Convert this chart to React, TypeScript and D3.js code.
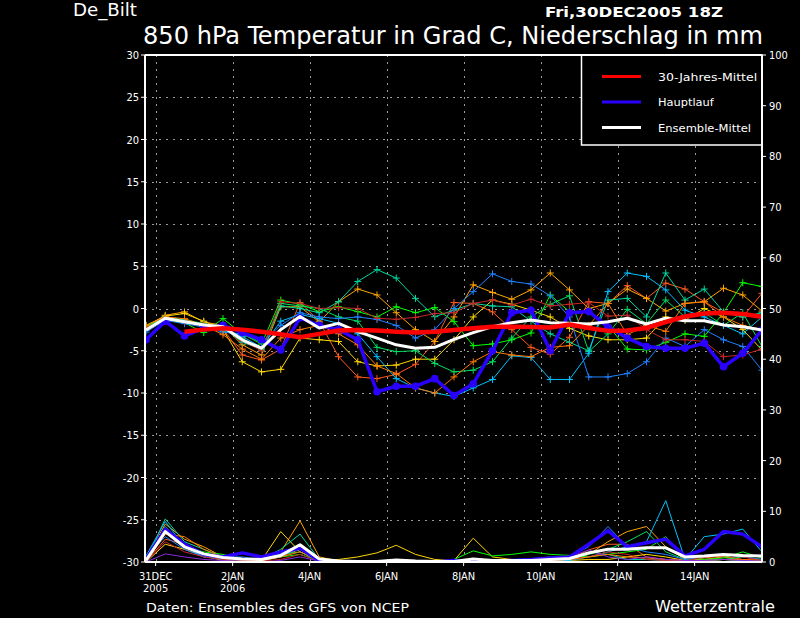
import React, { useEffect } from "react";
import * as d3 from "d3";

// ---------- data ----------
const stepHours = [0, 12, 24, 36, 48, 60, 72, 84, 96, 108, 120, 132, 144, 156, 168, 180, 192, 204, 216, 228, 240, 252, 264, 276, 288, 300, 312, 324, 336, 348, 360, 372, 384];
const tempTicks = [-30, -25, -20, -15, -10, -5, 0, 5, 10, 15, 20, 25, 30];
const precipTicks = [0, 10, 20, 30, 40, 50, 60, 70, 80, 90, 100];
const dayTickHours = [6, 54, 102, 150, 198, 246, 294, 342];
const dayTickLabels = ["31DEC", "2JAN", "4JAN", "6JAN", "8JAN", "10JAN", "12JAN", "14JAN"];
const yearTickLabels = ["2005", "2006", "", "", "", "", "", ""];

const memberColors = ["#ff5a1e", "#ffa500", "#ffd700", "#00ff00", "#00e060", "#00d8a0", "#00c0ff", "#1e82ff", "#c82828", "#ff7800"];
const precipOnlyColor = "#8a2be2";

const tempA = [-2.5, -1.2, -1.6, -2.0, -2.4, -5.5, -6.1, -4.8, 0.7, -1.5, -5.7, -8.1, -8.3, -7.8, -6.6, -3.9, 0.7, 0.6, -0.4, -2.5, -4.6, -5.4, -3.4, 0.8, 0.6, 2.7, 1.2, 3.0, 2.3, 0.8, -0.5, -1.0, 1.8];
const tempB = [-2.2, -0.8, -0.4, -1.6, -2.0, -4.3, -5.5, 0.2, 0.2, -1.6, 0.8, 2.3, 1.6, -0.5, -2.5, -3.9, -1.0, 2.8, 1.9, 1.1, 2.2, 4.2, 2.2, 0.0, 0.6, 2.3, 1.2, -0.3, 0.6, 0.8, 2.4, 1.6, -0.3];
const tempC = [-2.0, -0.9, -0.6, -1.5, -2.5, -6.3, -7.5, -7.2, -3.5, -3.7, -3.9, -6.3, -6.8, -6.7, -6.0, -6.0, -3.7, -1.0, 1.0, 0.5, -0.2, -1.0, -2.35, -3.25, -3.7, -3.7, -3.5, -1.0, -1.4, 0.0, -1.0, -2.5, -4.9];
const tempD = [-2.0, -1.3, -1.7, -2.85, -1.2, -3.0, -4.2, 1.0, 0.5, -0.37, 0.2, -0.37, -1.0, 0.2, -0.5, 0.1, -1.56, -4.4, -4.2, -3.7, -2.9, 1.6, -0.4, -0.4, -2.0, -4.8, -4.9, -4.0, -3.0, -3.3, -0.5, 3.05, 2.6];
const tempE = [-2.3, -1.0, -1.3, -1.8, -2.6, -3.5, -5.0, 0.6, 0.3, 0.0, -1.0, -1.5, -4.6, -5.1, -5.0, -6.5, -7.5, -7.3, -6.3, -3.5, -1.0, 0.5, 1.5, -5.1, -3.0, -0.1, -1.8, 1.0, -1.0, -0.5, -2.0, -0.5, -4.5];
const tempF = [-2.4, -1.1, -1.4, -1.9, -2.2, -4.0, -4.8, 0.3, 0.0, -0.5, 0.8, 3.2, 4.6, 3.6, 1.2, -0.97, -0.2, 0.6, 0.3, 0.2, -1.5, -3.0, -4.0, -5.0, 1.0, 1.2, -1.0, 4.2, 1.0, 2.3, -0.4, -1.0, -0.5];
const tempG = [-2.6, -1.3, -1.5, -2.0, -2.5, -3.3, -4.6, -1.5, -0.7, -1.2, -1.76, -3.0, -5.7, -8.3, -9.4, -10.0, -10.4, -9.4, -8.4, -5.6, -5.8, -8.4, -8.4, -5.3, 2.0, 4.2, 3.8, 2.2, -0.2, -1.0, -2.0, -3.0, -1.0];
const tempH = [-2.8, -1.4, -1.8, -2.2, -2.8, -3.0, -4.0, -2.0, -0.5, -1.0, -1.2, -1.0, -1.3, -2.0, -3.5, -2.5, 0.0, 2.0, 4.1, 3.2, 2.9, 1.5, -1.0, -8.1, -8.1, -7.7, -6.3, -3.5, -4.5, -2.5, -3.7, -4.5, -7.3];
const tempI = [-2.3, -1.2, -1.5, -1.9, -2.0, -3.8, -5.0, 0.8, 0.6, 0.0, 0.1, 0.0, -1.16, -1.28, -1.05, -0.6, -0.5, 0.6, 1.0, 0.4, 1.1, 0.3, 0.5, 0.7, -0.9, -0.8, -2.5, -3.7, -3.7, -3.9, -5.7, -5.5, -4.8];
const tempJ = [-2.0, -1.0, -1.2, -2.0, -3.1, -4.8, -6.0, -3.5, -2.5, -2.0, -3.0, -4.3, -6.8, -7.7, -9.4, -10.0, -8.1, -6.3, -5.1, -5.5, -5.7, -4.6, -4.4, -2.0, 0.6, -3.1, -2.0, -2.7, 0.6, 0.8, -1.0, -2.0, -2.5];

const precipA = [0, 4.5, 3.5, 1.5, 0.5, 0.3, 0.2, 1.0, 2.5, 0.3, 0, 0, 0, 0, 0, 0, 0, 0.2, 0.2, 0.3, 0.3, 0.5, 0.5, 2.4, 3.5, 3.5, 1.0, 0.5, 0.3, 0.8, 1.2, 0.5, 0.3];
const precipB = [0.5, 7.5, 4.5, 3.0, 1.0, 0.3, 0.2, 2.0, 8.1, 1.0, 0.2, 0, 0, 0, 0, 0, 0, 0.1, 0.1, 0.2, 0.3, 0.3, 0.5, 1.5, 4.0, 6.0, 7.0, 3.0, 0.5, 0.5, 1.0, 0.3, 0.2];
const precipC = [0, 3.5, 2.5, 1.2, 0.3, 0.1, 0.3, 6.0, 2.0, 0.2, 0.5, 1.0, 1.8, 3.3, 1.5, 0.5, 0.3, 4.7, 1.0, 0.5, 0.3, 0.2, 0.3, 0.5, 0.5, 1.0, 1.5, 1.0, 0.3, 0.3, 0.5, 0.3, 0.2];
const precipD = [1.0, 6.0, 3.0, 2.0, 1.5, 0.5, 0.3, 1.0, 1.5, 0.2, 0, 0, 0, 0, 0, 0, 0.5, 2.2, 1.2, 1.5, 2.0, 1.5, 1.3, 1.0, 1.5, 2.0, 2.5, 5.0, 1.0, 0.5, 0.8, 2.0, 0.8];
const precipE = [0, 7.0, 3.0, 1.5, 1.3, 0.5, 0.3, 1.5, 2.0, 0.2, 0, 0, 0, 0, 0, 0, 0, 0.3, 0.3, 0.5, 0.5, 0.5, 0.5, 1.5, 2.5, 4.0, 6.0, 2.0, 0.5, 0.3, 0.5, 1.0, 0.5];
const precipF = [0.3, 8.5, 4.0, 2.5, 1.0, 0.3, 0.5, 2.5, 5.5, 0.5, 0, 0, 0, 0, 0, 0, 0, 0.3, 0.3, 0.3, 0.5, 1.0, 0.5, 2.0, 1.5, 0.5, 0.5, 0.3, 0.2, 0.3, 0.5, 0.3, 0.2];
const precipG = [1.2, 8.0, 3.0, 1.0, 0.5, 0.3, 0.5, 1.5, 2.5, 0.3, 0, 0, 0, 0, 0, 0, 0, 0.2, 0.2, 0.3, 0.3, 0.3, 0.3, 1.0, 2.0, 3.0, 4.0, 12.1, 0.5, 5.0, 5.5, 6.5, 2.0];
const precipH = [0.8, 5.0, 2.5, 1.0, 1.0, 1.0, 0.5, 1.0, 3.0, 0.3, 0, 0, 0, 0, 0, 0, 0, 0.2, 0.2, 0.3, 0.5, 0.8, 1.0, 3.0, 7.0, 3.0, 2.0, 1.5, 0.5, 1.0, 1.5, 1.0, 0.5];
const precipI = [0, 4.0, 2.0, 1.0, 0.5, 0.3, 0.2, 0.5, 1.5, 0.2, 0, 0, 0, 0, 0, 0, 0, 0, 0.1, 0.2, 0.2, 0.3, 0.5, 1.0, 2.0, 1.5, 0.5, 0.3, 0.2, 1.0, 1.5, 1.0, 0.3];
const precipJ = [0, 5.5, 5.0, 2.5, 1.0, 0.5, 0.3, 1.0, 2.0, 0.5, 0.2, 0, 0, 0, 0, 0, 0, 0.2, 0.2, 0.3, 0.3, 0.3, 0.5, 1.0, 1.5, 1.0, 0.8, 0.5, 0.3, 0.3, 0.5, 0.5, 0.3];
const precipK = [0, 1.6, 1.0, 0.5, 0.3, 0.1, 0, 0.3, 1.0, 0.2, 0, 0, 0, 0, 0, 0, 0, 0.2, 0.2, 0.3, 0.5, 0.5, 1.0, 2.4, 1.0, 0.5, 1.0, 0.5, 0.3, 0.3, 0.5, 0.3, 0.2];

const mainTemp = [-3.7, -1.5, -3.25, -2.35, -2.0, -2.85, -3.7, -4.9, -1.1, -2.0, -2.5, -3.7, -9.85, -9.2, -9.2, -8.3, -10.3, -8.9, -5.0, -0.5, -0.2, -5.0, -0.5, -0.35, -2.2, -3.5, -4.5, -4.7, -4.7, -4.1, -6.9, -5.3, -2.55];
const meanTemp = [-2.55, -1.16, -1.56, -1.95, -2.15, -3.7, -4.7, -2.5, -0.95, -2.3, -1.76, -2.74, -3.5, -4.3, -4.7, -4.6, -3.65, -2.85, -2.15, -1.68, -1.36, -1.68, -1.76, -1.83, -1.56, -1.16, -1.83, -1.16, -1.44, -1.44, -1.95, -2.15, -2.55];
const climHours = [24, 36, 48, 60, 72, 84, 96, 108, 120, 132, 144, 156, 168, 180, 192, 204, 216, 228, 240, 252, 264, 276, 288, 300, 312, 324, 336, 348, 360, 372, 384];
const climTemp = [-2.75, -2.5, -2.35, -2.5, -2.75, -3.05, -3.4, -3.0, -2.6, -2.55, -2.6, -2.75, -2.85, -2.75, -2.55, -2.35, -2.15, -2.15, -2.2, -2.25, -1.9, -2.3, -2.65, -2.6, -2.3, -1.6, -0.95, -0.6, -0.5, -0.65, -0.97];
const mainPrecip = [0.5, 6.5, 3.5, 1.5, 1.0, 1.8, 1.0, 2.0, 2.7, 0.3, 0, 0, 0, 0, 0, 0, 0.3, 0.1, 0.2, 0.3, 0.5, 0.8, 1.0, 3.5, 6.2, 3.0, 3.8, 4.5, 1.2, 2.5, 6.0, 5.5, 3.0];
const meanPrecip = [0.3, 6.0, 3.0, 1.6, 0.9, 0.6, 0.5, 1.3, 3.4, 0.6, 0.2, 0.1, 0.1, 0.4, 0.2, 0.1, 0.1, 0.6, 0.3, 0.3, 0.3, 0.5, 0.7, 1.8, 2.5, 2.5, 2.8, 2.8, 1.0, 1.2, 1.5, 1.3, 1.2];

const legendLabels = ["30-Jahres-Mittel", "Hauptlauf", "Ensemble-Mittel"];
const legendColors = ["#ff0000", "#2a00ff", "#ffffff"];

const memberTemps = [tempA, tempB, tempC, tempD, tempE, tempF, tempG, tempH, tempI, tempJ];
const memberPrecips = [precipA, precipB, precipC, precipD, precipE, precipF, precipG, precipH, precipI, precipJ];

// ---------- layout ----------
const W = 800;
const H = 618;
const L = 145;
const R = 762;
const T = 55;
const B = 562;
const FONT = "'DejaVu Sans Condensed', 'DejaVu Sans', sans-serif";

export default function App() {
  useEffect(() => {
    document.body.style.margin = "0";
    document.body.style.background = "#000";
  }, []);

  const x = d3.scaleLinear().domain([0, 384]).range([L + 1, R]);
  const yT = d3.scaleLinear().domain([-30, 30]).range([B, T]);
  const yP = d3.scaleLinear().domain([0, 100]).range([B, T]);

  const lineT = d3
    .line<number>()
    .x((_, i) => x(stepHours[i]))
    .y((d) => yT(d));
  const lineP = d3
    .line<number>()
    .x((_, i) => x(stepHours[i]))
    .y((d) => yP(d));
  const lineClim = d3
    .line<number>()
    .x((_, i) => x(climHours[i]))
    .y((d) => yT(d));

  const plus = (cx: number, cy: number) => `M${cx - 3.5},${cy}H${cx + 3.5}M${cx},${cy - 3.5}V${cy + 3.5}`;

  return (
    <svg
      width={W}
      height={H}
      viewBox={`0 0 ${W} ${H}`}
      style={{ position: "absolute", left: 0, top: 0, background: "#000", display: "block" }}
    >
      <rect x={0} y={0} width={W} height={H} fill="#000" />
      <defs>
        <clipPath id="plotClip">
          <rect x={L} y={T} width={R - L} height={B - T} />
        </clipPath>
      </defs>

      {/* titles */}
      <text x={73} y={16} fill="#fff" fontFamily={FONT} fontSize={18} textLength={64} lengthAdjust="spacingAndGlyphs">
        De_Bilt
      </text>
      <text x={545} y={17} fill="#fff" fontFamily={FONT} fontSize={14} fontWeight="bold" textLength={178} lengthAdjust="spacingAndGlyphs">
        Fri,30DEC2005 18Z
      </text>
      <text x={143} y={44} fill="#fff" fontFamily={FONT} fontSize={25} textLength={620} lengthAdjust="spacingAndGlyphs">
        850 hPa Temperatur in Grad C, Niederschlag in mm
      </text>

      {/* grid */}
      <g stroke="#9a9a9a" strokeWidth={1} strokeDasharray="2,5" shapeRendering="crispEdges">
        {tempTicks
          .filter((t) => t > -30 && t < 30)
          .map((t) => (
            <line key={"h" + t} x1={L} x2={R} y1={Math.round(yT(t)) + 0.5} y2={Math.round(yT(t)) + 0.5} />
          ))}
        {dayTickHours.map((h) => (
          <line key={"v" + h} x1={Math.round(x(h)) + 0.5} x2={Math.round(x(h)) + 0.5} y1={T} y2={B} />
        ))}
      </g>

      <g clipPath="url(#plotClip)">
        {/* precipitation members */}
        <g fill="none" strokeWidth={1}>
          {memberPrecips.map((p, k) => (
            <path key={"p" + k} d={lineP(p) || ""} stroke={memberColors[k]} />
          ))}
          <path d={lineP(precipK) || ""} stroke={precipOnlyColor} />
        </g>

        {/* temperature members */}
        {memberTemps.map((t, k) => (
          <g key={"t" + k} stroke={memberColors[k]} fill="none" strokeWidth={1}>
            <path d={lineT(t) || ""} />
            <path d={t.map((v, i) => plus(x(stepHours[i]), yT(v))).join("")} />
          </g>
        ))}

        {/* Hauptlauf */}
        <path d={lineP(mainPrecip) || ""} fill="none" stroke="#2a00ff" strokeWidth={3.5} strokeLinejoin="round" />
        <path d={lineT(mainTemp) || ""} fill="none" stroke="#2a00ff" strokeWidth={3.5} strokeLinejoin="round" />
        {mainTemp.map((v, i) => (
          <circle key={"c" + i} cx={x(stepHours[i])} cy={yT(v)} r={3.8} fill="#2a00ff" />
        ))}

        {/* ensemble mean */}
        <path d={lineP(meanPrecip) || ""} fill="none" stroke="#fff" strokeWidth={3} strokeLinejoin="round" />
        <path d={lineT(meanTemp) || ""} fill="none" stroke="#fff" strokeWidth={3} strokeLinejoin="round" />

        {/* 30-year mean */}
        <path d={lineClim(climTemp) || ""} fill="none" stroke="#ff0000" strokeWidth={4.5} strokeLinejoin="round" />
      </g>

      {/* legend */}
      <rect x={581.5} y={T} width={R - 581.5} height={90} fill="#000" stroke="#fff" strokeWidth={1.5} />
      {legendLabels.map((lab, k) => (
        <g key={"lg" + k}>
          <line x1={602} x2={641} y1={76.5 + k * 25.5} y2={76.5 + k * 25.5} stroke={legendColors[k]} strokeWidth={3} />
          <text x={658} y={80.5 + k * 25.5} fill="#fff" fontFamily={FONT} fontSize={10.5} textLength={lab.length * 6.2} lengthAdjust="spacingAndGlyphs">
            {lab}
          </text>
        </g>
      ))}

      {/* frame */}
      <g stroke="#fff" strokeWidth={2} fill="none" shapeRendering="crispEdges">
        <line x1={L} x2={L} y1={T} y2={B} />
        <line x1={R} x2={R} y1={T} y2={B} />
        <line x1={L} x2={R} y1={T} y2={T} />
        <line x1={L} x2={R} y1={B} y2={B} />
      </g>

      {/* left axis */}
      {tempTicks.map((t) => (
        <g key={"lt" + t}>
          <line x1={L - 4} x2={L} y1={yT(t)} y2={yT(t)} stroke="#fff" strokeWidth={1} />
          <text x={L - 6} y={yT(t) + 4} fill="#fff" fontFamily={FONT} fontSize={11} textAnchor="end">
            {t}
          </text>
        </g>
      ))}

      {/* right axis */}
      {precipTicks.map((p) => (
        <g key={"rt" + p}>
          <line x1={R} x2={R + 4} y1={yP(p)} y2={yP(p)} stroke="#fff" strokeWidth={1} />
          <text x={R + 7} y={yP(p) + 4} fill="#fff" fontFamily={FONT} fontSize={11} textAnchor="start">
            {p}
          </text>
        </g>
      ))}

      {/* bottom axis */}
      {dayTickHours.map((h, k) => (
        <g key={"bt" + h}>
          <line x1={x(h)} x2={x(h)} y1={B} y2={B + 4} stroke="#fff" strokeWidth={1} />
          <text x={x(h)} y={580} fill="#fff" fontFamily={FONT} fontSize={11} textAnchor="middle">
            {dayTickLabels[k]}
          </text>
          {yearTickLabels[k] && (
            <text x={x(h)} y={592} fill="#fff" fontFamily={FONT} fontSize={11} textAnchor="middle">
              {yearTickLabels[k]}
            </text>
          )}
        </g>
      ))}

      {/* footer */}
      <text x={146} y={612} fill="#fff" fontFamily={FONT} fontSize={12} textLength={263} lengthAdjust="spacingAndGlyphs">
        Daten: Ensembles des GFS von NCEP
      </text>
      <text x={655} y={612} fill="#fff" fontFamily={FONT} fontSize={15} textLength={120} lengthAdjust="spacingAndGlyphs">
        Wetterzentrale
      </text>
    </svg>
  );
}
